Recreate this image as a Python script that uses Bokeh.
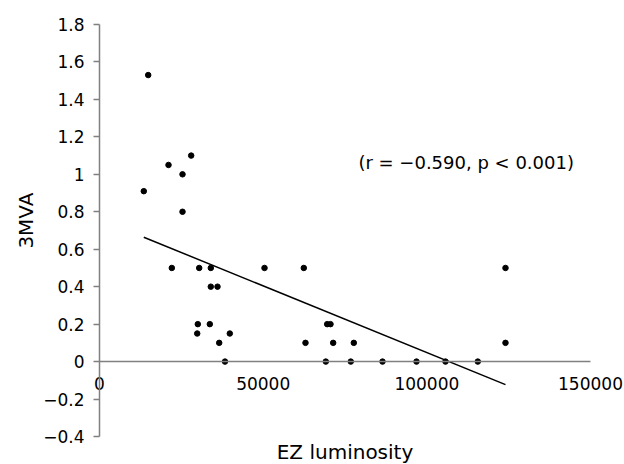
import math
from bokeh.plotting import figure
from bokeh.models import (Range1d, LinearAxis, FixedTicker, CustomJSTickFormatter,
                          NumeralTickFormatter, Label)
from bokeh.embed import file_html
from bokeh.resources import INLINE

# ---- data ----
ez_luminosity = [14880, 28010, 21080, 25360, 13530, 25360,
                 22090, 30460, 34000, 50410, 62410, 124030,
                 34000, 36050,
                 30030, 33700, 69560, 70570,
                 29850, 39810,
                 36570, 62930, 71390, 77690, 124030,
                 38340, 69140, 76770, 86460, 96840, 105700, 115570]
mva3 = [1.53, 1.10, 1.05, 1.00, 0.91, 0.80,
        0.50, 0.50, 0.50, 0.50, 0.50, 0.50,
        0.40, 0.40,
        0.20, 0.20, 0.20, 0.20,
        0.15, 0.15,
        0.10, 0.10, 0.10, 0.10, 0.10,
        0.00, 0.00, 0.00, 0.00, 0.00, 0.00, 0.00]

fit_intercept = 0.7604
fit_slope = -7.122e-6

x_ticks = [0, 50000, 100000, 150000]
y_ticks = [-0.4, -0.2, 0.0, 0.2, 0.4, 0.6, 0.8, 1.0, 1.2, 1.4, 1.6, 1.8]
x_axis_bounds = (0, 150000)
y_axis_bounds = (-0.4, 1.8)

x_title = "EZ luminosity"
y_title = "3MVA"
stats_text = "(r = \u22120.590, p < 0.001)"

FONT = "DejaVu Sans"
AXIS_GRAY = "#808080"

# ---- layout: plot area covers the whole canvas; axes are drawn at fixed
# positions so that axis ends sit where the reference has them ----
W, H = 624, 464
AX_LEFT, AX_RIGHT, AX_TOP, AX_BOTTOM = 99, 590, 24, 436   # pixel box of the axes
xs = (x_axis_bounds[1] - x_axis_bounds[0]) / (AX_RIGHT - AX_LEFT)
ys = (y_axis_bounds[1] - y_axis_bounds[0]) / (AX_BOTTOM - AX_TOP)
x_range = Range1d(x_axis_bounds[0] - AX_LEFT * xs, x_axis_bounds[1] + (W - AX_RIGHT) * xs)
y_range = Range1d(y_axis_bounds[0] - (H - AX_BOTTOM) * ys, y_axis_bounds[1] + AX_TOP * ys)

p = figure(width=W, height=H, x_range=x_range, y_range=y_range,
           output_backend="svg", toolbar_location=None,
           x_axis_location=None, y_axis_location=None,
           min_border_left=0, min_border_right=0,
           min_border_top=0, min_border_bottom=0)
p.outline_line_color = None
p.background_fill_color = "white"
p.border_fill_color = "white"
p.xgrid.visible = False
p.ygrid.visible = False

# y axis at x = 0
yaxis = LinearAxis(ticker=FixedTicker(ticks=y_ticks), fixed_location=0,
                   bounds=y_axis_bounds,
                   formatter=CustomJSTickFormatter(code="""
                       const v = Math.round(tick * 10) / 10;
                       const s = Math.abs(v).toString();
                       return v < 0 ? "\\u2212" + s : s;
                   """))
yaxis.axis_line_color = AXIS_GRAY
yaxis.axis_line_width = 1.5
yaxis.major_tick_line_color = AXIS_GRAY
yaxis.major_tick_line_width = 1.5
yaxis.major_tick_out = 6
yaxis.major_tick_in = 0
yaxis.minor_tick_line_color = None
yaxis.major_label_standoff = 9
yaxis.major_label_text_font = FONT
yaxis.major_label_text_font_size = "17px"
yaxis.major_label_text_color = "black"
p.add_layout(yaxis, "left")

# x axis at y = 0
xaxis = LinearAxis(ticker=FixedTicker(ticks=x_ticks), fixed_location=0,
                   bounds=x_axis_bounds,
                   formatter=NumeralTickFormatter(format="0"))
xaxis.axis_line_color = AXIS_GRAY
xaxis.axis_line_width = 1.5
xaxis.major_tick_line_color = None
xaxis.major_tick_out = 0
xaxis.major_tick_in = 0
xaxis.minor_tick_line_color = None
xaxis.major_label_standoff = 15
xaxis.major_label_text_font = FONT
xaxis.major_label_text_font_size = "17px"
xaxis.major_label_text_color = "black"
p.add_layout(xaxis, "below")

# regression line across the data range
x0, x1 = min(ez_luminosity), max(ez_luminosity)
p.line([x0, x1], [fit_intercept + fit_slope * x0, fit_intercept + fit_slope * x1],
       line_color="black", line_width=1.5)

# points
p.scatter(ez_luminosity, mva3, size=5.5, color="black")

# statistics annotation
p.add_layout(Label(x=79100, y=1.063, text=stats_text, text_font=FONT,
                   text_font_size="18px", text_align="left",
                   text_baseline="middle", text_color="black"))

# axis titles
p.add_layout(Label(x=75000, y=-0.481, text=x_title, text_font=FONT,
                   text_font_size="20px", text_align="center",
                   text_baseline="middle", text_color="black"))
p.add_layout(Label(x=-22600, y=0.753, text=y_title, text_font=FONT,
                   text_font_size="20px", text_align="center", angle=math.pi / 2,
                   text_baseline="middle", text_color="black"))

open("out.html", "w").write(file_html(p, INLINE))
